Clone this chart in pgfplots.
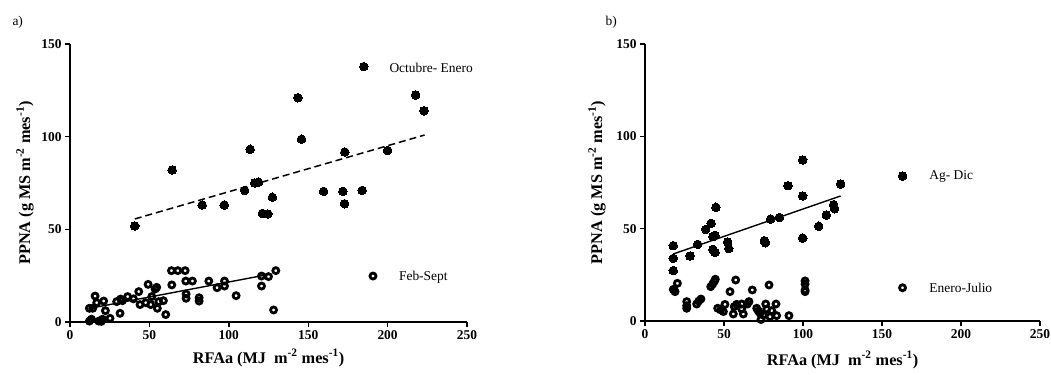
\documentclass[border=0pt]{standalone}
\usepackage{pgfplots}
\pgfplotsset{compat=1.18}
\usepackage{fontspec}
\setmainfont{Liberation Serif}
\newcommand{\tickfont}{\bfseries\fontsize{13.5}{15}\selectfont}
\newcommand{\labfont}{\bfseries\fontsize{16.3}{19}\selectfont}
\newcommand{\legfont}{\fontsize{13.5}{16}\selectfont}
\pgfplotsset{
  myax/.style={
    scale only axis, width=397bp, height=278bp,
    xmin=0, xmax=250, ymin=0, ymax=150,
    axis x line*=bottom, axis y line*=left,
    axis line style={line width=1.6bp, -},
    xtick={0,50,100,150,200,250}, ytick={0,50,100,150},
    tick style={line width=1.4bp, black},
    tick align=outside, major tick length=5bp,
    /pgf/number format/assume math mode=true,
    tick label style={font=\tickfont},
    clip=false,
    xlabel={RFAa (MJ \ m\textsuperscript{-2} mes\textsuperscript{-1})},
    ylabel={PPNA (g MS m\textsuperscript{-2} mes\textsuperscript{-1})},
    label style={font=\labfont},
  },
  filled/.style={only marks, mark=*, mark size=4.3bp, mark options={fill=black, draw=black, line width=0pt}},
  open/.style={only marks, mark=o, mark size=3.0bp, mark options={draw=black, line width=2.8bp}},
}
\begin{document}
\begin{tikzpicture}[x=1bp,y=1bp]
\path[use as bounding box] (0,0) rectangle (1051,374);
\node[anchor=west, font=\legfont] at (9,352) {a)};
\node[anchor=west, font=\legfont] at (602,352) {b)};
% Panel a
\begin{axis}[myax, at={(70bp,52bp)}, anchor=south west,
  xlabel style={at={(axis description cs:0.5,-0.1295)}, anchor=center},
  ylabel style={at={(axis description cs:-0.1134,0.5)}, anchor=center}]
\addplot[filled] coordinates {
(40.8,51.8) (64.3,82) (83.2,63.1) (97.1,63.1) (110,71) (113.4,93.2) (116.4,75) (118.7,75.4) (121.2,58.6) (124.6,58.3) (127.5,67.3) (143.5,121) (145.8,98.6) (159.7,70.5) (171.8,70.5) (172.9,63.8) (173.1,91.7) (184,71) (200,92.6) (217.6,122.5) (222.9,114)
};
\addplot[black, line width=1.5bp, dash pattern=on 7bp off 4bp] coordinates {(40.8,55.6) (223.3,100.9)};
\addplot[open] coordinates {
(12.2,7.4) (14.3,7.4) (15.8,14) (16.8,10.4) (21.2,11.3) (12.2,0.5) (13.5,1.5) (18.1,0.5) (19.7,0.3) (20.5,1.5) (22.3,6.1) (25.2,2) (31.5,4.7) (29.4,11) (31.9,12.4) (33,11.5) (36.3,13.7) (40,12.5) (43.3,16.4) (44.1,9.4) (47.7,10.4) (49.2,20.3) (50.8,9.4) (51.5,13.7) (53.6,17.8) (54.6,18.7) (55,7.4) (55.9,11) (58.8,11.5) (60.3,4) (63.9,27.7) (64.1,20) (67.9,27.7) (72.5,27.7) (72.9,22.1) (73.1,15.1) (73.1,12.8) (77.1,22.1) (81.3,13.1) (81.3,11.3) (87.4,22.1) (92.6,18.5) (97.3,22.1) (97.3,19.4) (104.6,14.2) (120.6,24.8) (120.6,19.4) (125,24.5) (128.2,6.5) (129.6,27.7)
};
\addplot[black, line width=1.4bp] coordinates {(12,7.3) (126,25.8)};
% legend marks
\addplot[filled] coordinates {(185,137.8)};
\addplot[open] coordinates {(190.8,24.8)};
\node[anchor=west, font=\legfont] at (axis cs:199,137.3) {Octubre- Enero};
\node[anchor=west, font=\legfont] at (axis cs:205,24.3) {Feb-Sept};
\end{axis}
% Panel b
\begin{axis}[myax, at={(645bp,53bp)}, anchor=south west, width=395bp, height=277bp,
  xlabel style={at={(axis description cs:0.5,-0.1408)}, anchor=center},
  ylabel style={at={(axis description cs:-0.1215,0.5)}, anchor=center}]
\addplot[filled] coordinates {
(17.9,40.8) (17.9,33.9) (17.9,27.3) (28.5,35.2) (33.3,41.5) (38.4,49.6) (41.8,52.9) (43,45.7) (44.3,46.4) (43,38.8) (44.3,37.2) (44.9,61.6) (52.3,42.8) (53,39.2) (75.5,43.5) (76.2,42.4) (79.5,55.2) (85,56) (90.5,73.3) (99.8,87.2) (99.8,67.7) (99.8,44.9) (109.9,51.3) (114.8,57.4) (119.4,63) (120,60.8) (123.8,74.2)
};
\addplot[black, line width=1.4bp] coordinates {(17.9,36.3) (123.8,67.7)};
\addplot[open] coordinates {
(17.9,17.1) (19,15.9) (20.5,20.4) (26.4,10.5) (26.4,8.3) (26.4,6.9) (32.7,9.2) (34,10.8) (35.4,11.9) (41.6,18.6) (42.8,20) (43.9,21.5) (44.5,22.6) (46,6.9) (47.9,6) (49.6,5.1) (50.6,9) (53.8,15.9) (55.9,3.8) (56.5,7.8) (57.4,22.2) (58,9) (61.2,9.2) (62.2,3.8) (61.2,6.5) (64.8,9.2) (65.8,10.5) (67.9,16.8) (70.7,6.9) (71.7,5.4) (72.8,4.2) (73.4,0.8) (74.9,3.2) (76.4,9.2) (77,6.5) (78.5,19.5) (79.1,2.3) (80.2,5.6) (82.9,9.2) (83.3,2.9) (91.1,2.9) (101.3,21.7) (101.3,20) (101.3,16.8) (101.3,15.9)
};
\addplot[filled] coordinates {(163,78.5)};
\addplot[open] coordinates {(163,18)};
\node[anchor=west, font=\legfont] at (axis cs:177.8,78.2) {Ag- Dic};
\node[anchor=west, font=\legfont] at (axis cs:177.8,17.7) {Enero-Julio};
\end{axis}
\end{tikzpicture}
\end{document}
